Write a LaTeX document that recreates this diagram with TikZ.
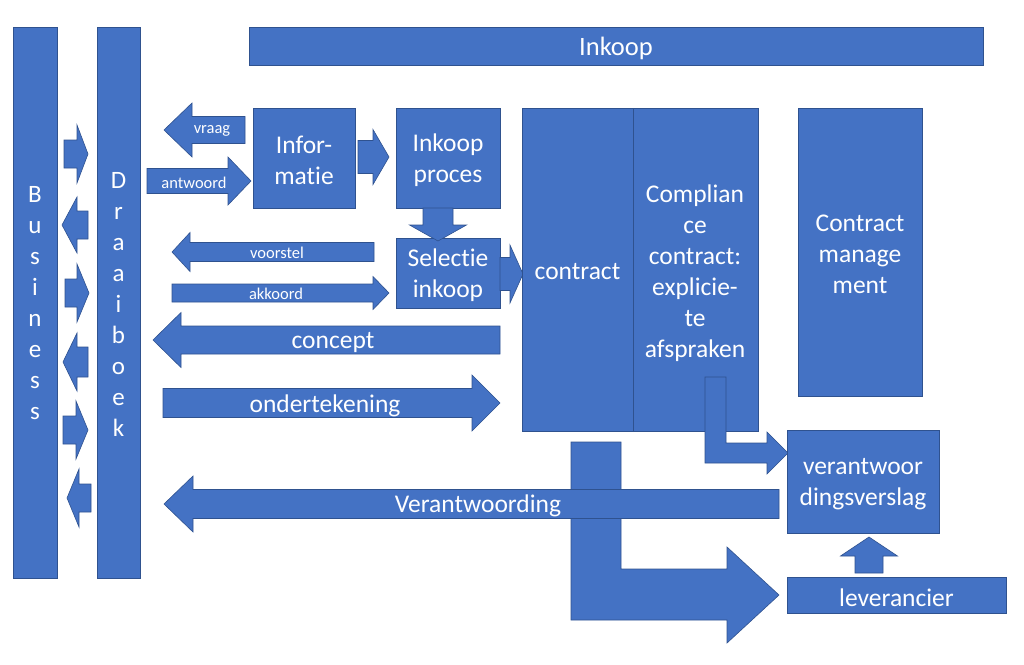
\documentclass[tikz,border=0pt]{standalone}
\usepackage{fontspec}
\setmainfont[Ligatures={NoCommon}]{Carlito}
\definecolor{ofblue}{RGB}{68,114,196}
\definecolor{ofedge}{RGB}{47,82,143}
\tikzset{
 blk/.style={fill=ofblue, draw=ofedge, line width=0.6pt, line join=miter},
 box/.style={blk, rectangle, inner sep=0pt},
 big/.style={text=white, align=center, font=\fontsize{25.5}{31}\selectfont, inner sep=0pt, yshift=-2.5pt},
 sml/.style={text=white, align=center, font=\fontsize{16.5}{19}\selectfont, inner sep=0pt, yshift=-2pt},
 vert/.style={text=white, align=center, font=\fontsize{25}{31}\selectfont, inner sep=0pt},
}
% horizontal block arrow: tail x, head-base x, tip x, centre y, shaft half, head half
\newcommand{\BlkH}[6]{\draw[blk] (#1,#4-#5) -- (#2,#4-#5) -- (#2,#4-#6) -- (#3,#4) -- (#2,#4+#6) -- (#2,#4+#5) -- (#1,#4+#5) -- cycle;}
% vertical block arrow: tail y, head-base y, tip y, centre x, shaft half, head half
\newcommand{\BlkV}[6]{\draw[blk] (#4-#5,#1) -- (#4-#5,#2) -- (#4-#6,#2) -- (#4,#3) -- (#4+#6,#2) -- (#4+#5,#2) -- (#4+#5,#1) -- cycle;}
\begin{document}
\begin{tikzpicture}[x=1pt,y=-1pt]
\useasboundingbox (0,0) rectangle (1024,664);
% side bars
\node[box, minimum width=44, minimum height=551] (business) at (35,302.5) {};
\node[vert] (businesstxt) at (business.center) [yshift=-1pt] {B\\u\\s\\i\\n\\e\\s\\s};
\node[box, minimum width=43, minimum height=551] (draaiboek) at (118.5,302.5) {};
\node[vert] (draaiboektxt) at (draaiboek.center) [yshift=-2pt] {D\\r\\a\\a\\i\\b\\o\\e\\k};
% top bar
\node[box, minimum width=734, minimum height=38] (inkoop) at (616,46) {};
\node[big, font=\fontsize{26.5}{31}\selectfont] (inkooptxt) at (inkoop.center) {Inkoop};
% small arrows between Business and Draaiboek
\BlkH{64}{77}{88}{154}{14}{29}
\BlkH{88}{77}{62}{225}{14}{28}
\BlkH{65}{77}{89}{293}{14}{29}
\BlkH{88}{77}{63}{362}{15}{29}
\BlkH{63}{76}{88}{430}{14}{29}
\BlkH{91}{79}{67}{498}{14}{29}
% vraag / antwoord
\BlkH{245}{192}{164}{130}{13.5}{27}
\node[sml] (vraag) at (212,129) {vraag};
\BlkH{147}{228}{251}{181}{12.5}{24}
\node[sml] (antwoord) at (194,181) {antwoord};
% boxes
\node[box, minimum width=102, minimum height=100] (info) at (304,158) {};
\node[big] (infotxt) at (info.center) {Infor-\\matie};
\BlkH{358}{373}{389}{157}{16.5}{27.5}
\node[box, minimum width=104, minimum height=100] (proces) at (448,158) {};
\node[big] (procestxt) at (proces.center) {Inkoop\\proces};
\node[box, minimum width=104, minimum height=70] (selectie) at (448,273) {};
\node[big] (selectietxt) at (selectie.center) {Selectie\\inkoop};
\BlkV{208}{225}{241}{438}{15}{28.5}
% voorstel / akkoord
\BlkH{374}{190}{172}{252}{9.5}{19.5}
\node[sml] (voorstel) at (277,251) {voorstel};
\BlkH{172}{373}{389}{293}{9}{16.5}
\node[sml] (akkoord) at (276,292) {akkoord};
% selectie -> contract
\BlkH{500}{510}{523}{274}{16.5}{29}
% contract blocks
\node[box, minimum width=111, minimum height=323] (contract) at (577.5,269.5) {};
\node[big] (contracttxt) at (contract.center) {contract};
\node[box, minimum width=125, minimum height=323] (compliance) at (695.5,269.5) {};
\node[big] (compltxt) at (695,271) {Complian\\ce\\contract:\\explicie-\\te\\afspraken};
\node[box, minimum width=124, minimum height=288] (cm) at (860,252) {};
\node[big] (cmtxt) at (cm.center) {Contract\\manage\\ment};
% concept / ondertekening
\BlkH{500}{181}{153}{340}{14}{27.5}
\node[big] (concept) at (333,340) {concept};
\BlkH{163}{472}{500}{403}{14.5}{28}
\node[big] (onderteken) at (325,403) {ondertekening};
% big bent arrow to leverancier
\draw[blk] (571,442) -- (621,442) -- (621,569) -- (727,569) -- (727,547) -- (779,595) -- (727,643) -- (727,620) -- (571,620) -- cycle;
% Verantwoording
\BlkH{779}{193}{164}{504}{14.5}{28}
\node[big] (verantw) at (478,503) {Verantwoording};
% bent arrow compliance -> verslag
\draw[blk] (705,377) -- (726,377) -- (726,443) -- (767,443) -- (767,432) -- (788,453) -- (767,474) -- (767,463) -- (705,463) -- cycle;
\node[box, minimum width=152, minimum height=103] (verslag) at (863,481.5) {};
\node[big] (verslagtxt) at (verslag.center) {verantwoor\\dingsverslag};
\BlkV{573}{556}{537}{869}{14}{28.5}
\node[box, minimum width=219, minimum height=36] (leverancier) at (896.5,595) {};
\node[big] (levtxt) at (leverancier.center) {leverancier};
\end{tikzpicture}
\end{document}
